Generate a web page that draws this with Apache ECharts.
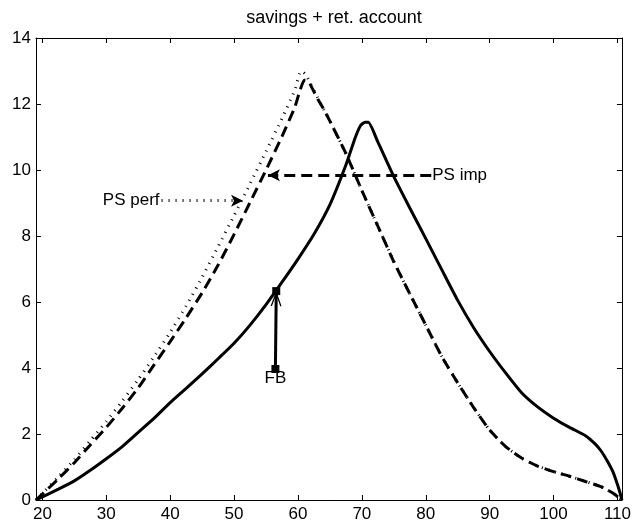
<!DOCTYPE html>
<html>
<head>
<meta charset="utf-8">
<script src="https://cdn.jsdelivr.net/npm/echarts@6/dist/echarts.min.js"></script>
<style>
html,body{margin:0;padding:0;background:#fff;}
#chart{width:634px;height:529px;}
</style>
</head>
<body>
<div id="chart"></div>
<script>
// ---- data ----
var titleText = 'savings + ret. account';
var xTicks = [20, 30, 40, 50, 60, 70, 80, 90, 100, 110];
var yTicks = [0, 2, 4, 6, 8, 10, 12, 14];

// FB (solid)
var fbX = [19, 22.5, 25, 27.5, 30, 32.5, 35, 37.5, 40, 42.5, 45, 47.5, 50, 52.5, 55, 57.5, 60, 62.5, 65, 67.5, 69, 69.8, 70.5, 71.0, 72.5, 75, 77.5, 80, 82.5, 85, 87.5, 90, 92.5, 95, 97.5, 100, 102.5, 105, 106.5, 107.5, 108.5, 109.3, 110, 110.4, 110.7];
var fbY = [0, 0.33, 0.58, 0.9, 1.25, 1.62, 2.05, 2.48, 2.95, 3.38, 3.82, 4.28, 4.75, 5.3, 5.92, 6.6, 7.3, 8.05, 8.95, 10.15, 11.0, 11.35, 11.45, 11.45, 10.85, 9.8, 8.85, 7.92, 6.98, 6.05, 5.22, 4.5, 3.85, 3.25, 2.82, 2.48, 2.2, 1.95, 1.7, 1.47, 1.15, 0.85, 0.47, 0.22, 0];

// PS imp (dashed)
var impX = [19, 20, 22.5, 25, 27.5, 30, 32.5, 35, 37.5, 40, 42.5, 45, 47.5, 50, 52.5, 55, 57.5, 59.5, 60.3, 61.0, 61.6, 62.3, 63.1, 64, 65, 67.5, 70, 72.5, 75, 77.5, 80, 82.5, 85, 87.5, 90, 92.5, 95, 97.5, 100, 102.5, 105, 107.5, 109.5, 110.7];
var impY = [0, 0.18, 0.64, 1.13, 1.67, 2.2, 2.78, 3.4, 4.1, 4.8, 5.52, 6.28, 7.12, 8.05, 9.02, 10.0, 11.02, 11.9, 12.4, 12.72, 12.7, 12.45, 12.15, 11.85, 11.48, 10.5, 9.38, 8.3, 7.22, 6.25, 5.3, 4.35, 3.55, 2.8, 2.12, 1.62, 1.27, 1.03, 0.86, 0.72, 0.56, 0.4, 0.18, 0];

// PS perf (dotted)
var perfX = [19, 20, 22.5, 25, 27.5, 30, 32.5, 35, 37.5, 40, 42.5, 45, 47.5, 50, 52.5, 55, 57.5, 59.5, 60.5, 61.2, 62, 63, 64, 65, 67.5, 70, 72.5, 75, 77.5, 80, 82.5, 85, 87.5, 90, 92.5, 95, 97.5, 100, 102.5, 105, 107.5, 109.5, 110.7];
var perfY = [0, 0.2, 0.7, 1.22, 1.8, 2.38, 3.0, 3.65, 4.35, 5.08, 5.88, 6.75, 7.68, 8.62, 9.58, 10.56, 11.56, 12.42, 13.0, 12.9, 12.6, 12.22, 11.85, 11.48, 10.5, 9.38, 8.3, 7.22, 6.25, 5.3, 4.35, 3.55, 2.8, 2.12, 1.62, 1.27, 1.03, 0.86, 0.72, 0.56, 0.4, 0.18, 0];

// annotation arrows (data coordinates: start -> end)
var perfArrow = [[38.65, 9.07], [51.4, 9.07]];
var impArrow = [[80.86, 9.84], [55.3, 9.84]];
var fbArrow = [[56.47, 3.97], [56.6, 6.33]];
var annotTexts = ['PS perf', 'PS imp', 'FB'];

// ---- chart ----
function pairs(xs, ys) { return xs.map(function (x, i) { return [x, ys[i]]; }); }
var FONT = "'Liberation Sans', Arial, Helvetica, sans-serif";
var FS = 17;
var black = '#000';
// open chevron whose tip sits at the symbol centre (shape occupies the lower half of the box)
var chevron = 'path://M6,0 L6,0.01 M0,28 L6,14 L12,28 L10.5,28 L6,17.5 L1.5,28 Z';

function xAx(pos, showLabel) {
  return {
    type: 'value', position: pos, min: 19, max: 110.7,
    axisLine: { show: true, onZero: false, lineStyle: { color: black, width: 1 } },
    axisTick: { show: true, inside: true, length: 5, lineStyle: { color: black }, customValues: xTicks },
    axisLabel: { show: showLabel, color: black, fontSize: FS, fontFamily: FONT, margin: 6, customValues: xTicks },
    splitLine: { show: false }
  };
}
function yAx(pos, showLabel) {
  return {
    type: 'value', position: pos, min: 0, max: 14, interval: 2,
    axisLine: { show: true, onZero: false, lineStyle: { color: black, width: 1 } },
    axisTick: { show: true, inside: true, length: 5, lineStyle: { color: black } },
    axisLabel: { show: showLabel, color: black, fontSize: FS, fontFamily: FONT, margin: 5 },
    splitLine: { show: false }
  };
}
function lbl(pos, dist, text) {
  return { show: true, position: pos, distance: dist, formatter: text, color: black, fontSize: FS, fontFamily: FONT, opacity: 1 };
}

var option = {
  animation: false,
  backgroundColor: '#fff',
  title: {
    text: titleText, left: 329, top: 4, textAlign: 'center',
    textStyle: { color: black, fontSize: 18, fontWeight: 'normal', fontFamily: FONT }
  },
  grid: { left: 36, right: 11, top: 38, bottom: 29 },
  xAxis: [xAx('bottom', true), xAx('top', false)],
  yAxis: [yAx('left', true), yAx('right', false)],
  series: [
    {
      name: 'PS perf', type: 'line', data: pairs(perfX, perfY), showSymbol: false, smooth: 0.2,
      lineStyle: { color: black, width: 3, type: [1, 6] }, z: 3,
      markLine: {
        silent: true, symbol: ['none', 'arrow'], symbolSize: [9, 12], label: { show: false },
        lineStyle: { color: black, width: 3, type: [1, 6] },
        data: [[{ coord: perfArrow[0] }, { coord: perfArrow[1] }]]
      }
    },
    {
      name: 'PS imp', type: 'line', data: pairs(impX, impY), showSymbol: false, smooth: 0.2,
      lineStyle: { color: black, width: 3, type: [11, 6] }, z: 2,
      markLine: {
        silent: true, symbol: ['none', 'arrow'], symbolSize: [9, 12], label: { show: false },
        lineStyle: { color: black, width: 3, type: [11, 6] },
        data: [[{ coord: impArrow[0] }, { coord: impArrow[1] }]]
      }
    },
    {
      name: 'FB', type: 'line', data: pairs(fbX, fbY), showSymbol: false, smooth: 0.2,
      lineStyle: { color: black, width: 3, type: 'solid' }, z: 2,
      markLine: {
        silent: true, symbol: ['none', chevron], symbolSize: [11, 30], label: { show: false },
        lineStyle: { color: black, width: 3, type: 'solid' },
        data: [[{ coord: fbArrow[0] }, { coord: fbArrow[1] }]]
      }
    },
    {
      name: 'fbMarks', type: 'scatter', data: fbArrow, symbol: 'rect', symbolSize: 8,
      itemStyle: { color: black, opacity: 1 }, z: 10, silent: true
    },
    {
      name: 'labels', type: 'scatter', symbolSize: 0, silent: true, z: 6,
      itemStyle: { color: 'rgba(0,0,0,0)', opacity: 1 },
      data: [
        { value: perfArrow[0], label: lbl('left', 2, annotTexts[0]) },
        { value: impArrow[0], label: lbl('right', 1, annotTexts[1]) },
        { value: fbArrow[0], label: lbl('bottom', 1, annotTexts[2]) }
      ]
    }
  ]
};

var chart = echarts.init(document.getElementById('chart'), null, { renderer: 'canvas' });
chart.setOption(option);
</script>
</body>
</html>
